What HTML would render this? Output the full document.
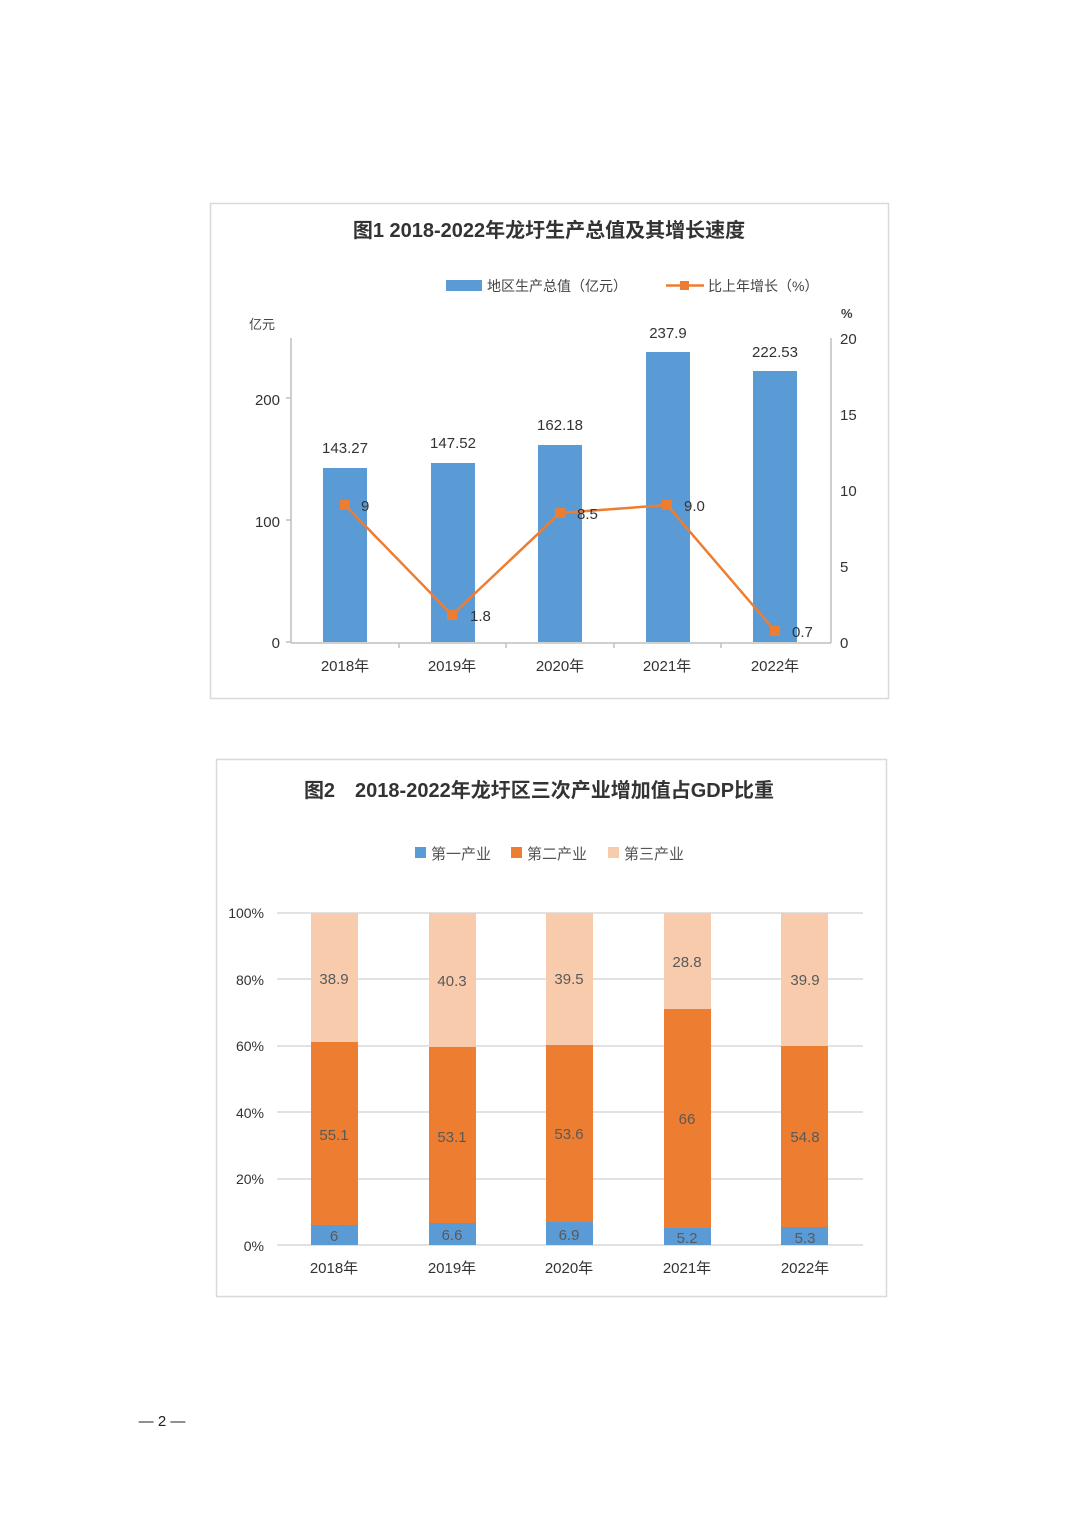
<!DOCTYPE html>
<html><head><meta charset="utf-8"><style>
html,body{margin:0;padding:0;background:#fff;}
svg{display:block;}
text{font-family:"Liberation Sans","Noto Sans CJK SC",sans-serif;}
</style></head><body>
<svg width="1074" height="1520" viewBox="0 0 1074 1520" xmlns="http://www.w3.org/2000/svg">
<rect width="1074" height="1520" fill="#fff"/>
<!-- Chart 1 -->
<rect x="210.5" y="203.5" width="678" height="495" fill="#fff" stroke="#d9d9d9" stroke-width="1.5"/>
<text x="549" y="237" text-anchor="middle" font-size="20" font-weight="bold" fill="#333">图1 2018-2022年龙圩生产总值及其增长速度</text>
<rect x="446" y="280" width="36" height="11" fill="#5b9bd5"/>
<text x="487" y="291" font-size="14" fill="#444" font-family="Noto Serif CJK SC,serif">地区生产总值（亿元）</text>
<line x1="666" y1="285.5" x2="704" y2="285.5" stroke="#ed7d31" stroke-width="2.5"/>
<rect x="680" y="281" width="9" height="9" fill="#ed7d31"/>
<text x="708" y="291" font-size="14" fill="#444" font-family="Noto Serif CJK SC,serif">比上年增长（%）</text>
<text x="249" y="329" font-size="13" fill="#444" font-family="Noto Serif CJK SC,serif">亿元</text>
<text x="841" y="318" font-size="13" font-weight="bold" fill="#444">%</text>
<line x1="291" y1="338" x2="291" y2="643" stroke="#bfbfbf" stroke-width="1.5"/>
<line x1="831" y1="338" x2="831" y2="643" stroke="#bfbfbf" stroke-width="1.5"/>
<line x1="291" y1="643" x2="831" y2="643" stroke="#bfbfbf" stroke-width="1.5"/>
<g stroke="#bfbfbf" stroke-width="1.5">
<line x1="286" y1="398" x2="291" y2="398"/><line x1="286" y1="520" x2="291" y2="520"/><line x1="286" y1="642" x2="291" y2="642"/>
<line x1="399" y1="643" x2="399" y2="648"/><line x1="506" y1="643" x2="506" y2="648"/><line x1="614" y1="643" x2="614" y2="648"/><line x1="721" y1="643" x2="721" y2="648"/>
</g>
<g font-size="15" fill="#333" text-anchor="end">
<text x="280" y="405">200</text><text x="280" y="527">100</text><text x="280" y="648">0</text>
</g>
<g font-size="15" fill="#333">
<text x="840" y="344">20</text><text x="840" y="420">15</text><text x="840" y="496">10</text><text x="840" y="572">5</text><text x="840" y="648">0</text>
</g>
<g fill="#5b9bd5">
<rect x="323" y="468" width="44" height="174"/>
<rect x="431" y="463" width="44" height="179"/>
<rect x="538" y="445" width="44" height="197"/>
<rect x="646" y="352" width="44" height="290"/>
<rect x="753" y="371" width="44" height="271"/>
</g>
<g font-size="15" fill="#333" text-anchor="middle">
<text x="345" y="453">143.27</text><text x="453" y="448">147.52</text><text x="560" y="430">162.18</text><text x="668" y="338">237.9</text><text x="775" y="357">222.53</text>
</g>
<polyline points="345,505 452,615 560,513 667,505 775,631" fill="none" stroke="#ed7d31" stroke-width="2.5"/>
<g fill="#ed7d31">
<rect x="340" y="500" width="10" height="10"/><rect x="447" y="610" width="10" height="10"/><rect x="555" y="508" width="10" height="10"/><rect x="662" y="500" width="10" height="10"/><rect x="770" y="626" width="10" height="10"/>
</g>
<g font-size="15" fill="#333">
<text x="361" y="511">9</text><text x="470" y="621">1.8</text><text x="577" y="519">8.5</text><text x="684" y="511">9.0</text><text x="792" y="637">0.7</text>
</g>
<g font-size="15" fill="#333" text-anchor="middle">
<text x="345" y="671">2018年</text><text x="452" y="671">2019年</text><text x="560" y="671">2020年</text><text x="667" y="671">2021年</text><text x="775" y="671">2022年</text>
</g>
<!-- Chart 2 -->
<rect x="216.5" y="759.5" width="670" height="537" fill="#fff" stroke="#d9d9d9" stroke-width="1.5"/>
<text x="539" y="797" text-anchor="middle" font-size="20" font-weight="bold" fill="#333">图2　2018-2022年龙圩区三次产业增加值占GDP比重</text>
<rect x="415" y="847" width="11" height="11" fill="#5b9bd5"/>
<text x="431" y="859" font-size="15" fill="#555" font-family="Noto Serif CJK SC,serif">第一产业</text>
<rect x="511" y="847" width="11" height="11" fill="#ed7d31"/>
<text x="527" y="859" font-size="15" fill="#555" font-family="Noto Serif CJK SC,serif">第二产业</text>
<rect x="608" y="847" width="11" height="11" fill="#f8cbad"/>
<text x="624" y="859" font-size="15" fill="#555" font-family="Noto Serif CJK SC,serif">第三产业</text>
<g stroke="#d9d9d9" stroke-width="1.5">
<line x1="277" y1="913" x2="863" y2="913"/><line x1="277" y1="979" x2="863" y2="979"/><line x1="277" y1="1046" x2="863" y2="1046"/><line x1="277" y1="1112" x2="863" y2="1112"/><line x1="277" y1="1179" x2="863" y2="1179"/><line x1="277" y1="1245" x2="863" y2="1245"/>
</g>
<g font-size="14" fill="#333" text-anchor="end">
<text x="264" y="918">100%</text><text x="264" y="985">80%</text><text x="264" y="1051">60%</text><text x="264" y="1118">40%</text><text x="264" y="1184">20%</text><text x="264" y="1251">0%</text>
</g>
<g>
<rect x="311" y="913" width="47" height="129" fill="#f8cbad"/><rect x="311" y="1042" width="47" height="183" fill="#ed7d31"/><rect x="311" y="1225" width="47" height="20" fill="#5b9bd5"/>
<rect x="429" y="913" width="47" height="134" fill="#f8cbad"/><rect x="429" y="1047" width="47" height="176" fill="#ed7d31"/><rect x="429" y="1223" width="47" height="22" fill="#5b9bd5"/>
<rect x="546" y="913" width="47" height="132" fill="#f8cbad"/><rect x="546" y="1045" width="47" height="177" fill="#ed7d31"/><rect x="546" y="1222" width="47" height="23" fill="#5b9bd5"/>
<rect x="664" y="913" width="47" height="96" fill="#f8cbad"/><rect x="664" y="1009" width="47" height="219" fill="#ed7d31"/><rect x="664" y="1228" width="47" height="17" fill="#5b9bd5"/>
<rect x="781" y="913" width="47" height="133" fill="#f8cbad"/><rect x="781" y="1046" width="47" height="181" fill="#ed7d31"/><rect x="781" y="1227" width="47" height="18" fill="#5b9bd5"/>
</g>
<g font-size="15" fill="#595959" text-anchor="middle">
<text x="334" y="984">38.9</text><text x="452" y="986">40.3</text><text x="569" y="984">39.5</text><text x="687" y="967">28.8</text><text x="805" y="985">39.9</text>
<text x="334" y="1140">55.1</text><text x="452" y="1142">53.1</text><text x="569" y="1139">53.6</text><text x="687" y="1124">66</text><text x="805" y="1142">54.8</text>
<text x="334" y="1241">6</text><text x="452" y="1240">6.6</text><text x="569" y="1240">6.9</text><text x="687" y="1243">5.2</text><text x="805" y="1243">5.3</text>
</g>
<g font-size="15" fill="#333" text-anchor="middle">
<text x="334" y="1273">2018年</text><text x="452" y="1273">2019年</text><text x="569" y="1273">2020年</text><text x="687" y="1273">2021年</text><text x="805" y="1273">2022年</text>
</g>
<text x="162" y="1426" text-anchor="middle" font-size="15" fill="#222">— 2 —</text>
</svg>
</body></html>
